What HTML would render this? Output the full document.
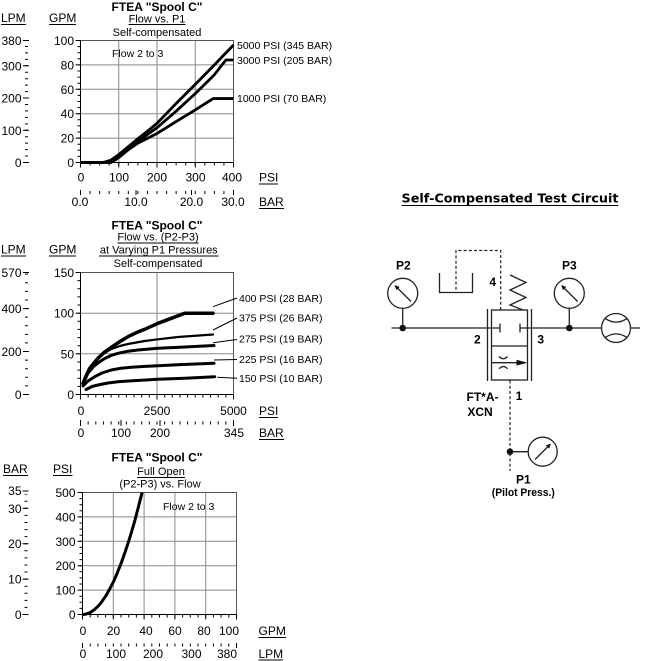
<!DOCTYPE html>
<html><head><meta charset="utf-8">
<style>
html,body{margin:0;padding:0;background:#fff;width:653px;height:661px;overflow:hidden;}
svg{display:block;}
text{font-family:"Liberation Sans",Arial,sans-serif;fill:#000;}
</style></head><body>
<svg width="653" height="661" viewBox="0 0 653 661" xmlns="http://www.w3.org/2000/svg">
<rect width="653" height="661" fill="#fff"/>

<!-- ================= TOP CHART ================= -->
<g>
<text x="157" y="11" font-size="12" font-weight="bold" text-anchor="middle">FTEA "Spool C"</text>
<text x="157" y="22.5" font-size="11" text-anchor="middle">Flow vs. P1</text>
<line x1="128.5" y1="24.5" x2="185.5" y2="24.5" stroke="#000"/>
<text x="157" y="36" font-size="11" text-anchor="middle">Self-compensated</text>
<text x="1" y="22" font-size="12">LPM</text>
<line x1="1" y1="24.5" x2="26" y2="24.5" stroke="#000"/>
<text x="49" y="22" font-size="12">GPM</text>
<line x1="49" y1="24.5" x2="76" y2="24.5" stroke="#000"/>

<g stroke="#8a8a8a" stroke-width="1">
<path d="M118.75 40.5V162.5M157 40.5V162.5M195.25 40.5V162.5M80.5 138.1H233.5M80.5 113.7H233.5M80.5 89.3H233.5M80.5 64.9H233.5"/>
</g>
<rect x="80.5" y="40.5" width="153" height="122" fill="none" stroke="#555"/>
<path d="M80.5 40.5V162.5H233.5" fill="none" stroke="#000"/>

<line x1="79" y1="163" x2="79" y2="40" stroke="#000" stroke-width="3" stroke-dasharray="1 5.1"/>
<path d="M75.5 162.5h5M75.5 138.1h5M75.5 113.7h5M75.5 89.3h5M75.5 64.9h5M75.5 40.5h5" stroke="#000"/>
<g font-size="12" text-anchor="end">
<text x="74" y="45">100</text><text x="74" y="69.4">80</text><text x="74" y="93.8">60</text>
<text x="74" y="118.2">40</text><text x="74" y="142.6">20</text><text x="74" y="167">0</text>
</g>
<line x1="26.5" y1="163" x2="26.5" y2="41" stroke="#000" stroke-width="3" stroke-dasharray="1 5.446"/>
<path d="M23 162.5h6M23 130.3h6M23 98h6M23 65.8h6M23 40.5h6" stroke="#000"/>
<g font-size="12" text-anchor="end">
<text x="21.5" y="45">380</text><text x="21.5" y="70.3">300</text><text x="21.5" y="102.5">200</text>
<text x="21.5" y="134.8">100</text><text x="21.5" y="167">0</text>
</g>
<line x1="80" y1="164" x2="234" y2="164" stroke="#000" stroke-width="3" stroke-dasharray="1 8.5625"/>
<path d="M80.5 162.5v5M118.75 162.5v5M157 162.5v5M195.25 162.5v5M233.5 162.5v5" stroke="#000"/>
<g font-size="12" text-anchor="middle">
<text x="81" y="181.5">0</text><text x="119" y="181.5">100</text><text x="157" y="181.5">200</text>
<text x="195.5" y="181.5">300</text><text x="232" y="181.5">400</text>
</g>
<text x="259" y="181.5" font-size="12">PSI</text>
<line x1="259" y1="184" x2="278" y2="184" stroke="#000"/>
<line x1="80" y1="192.5" x2="234" y2="192.5" stroke="#000" stroke-width="3" stroke-dasharray="1 8.5625"/>
<path d="M80.5 190v5M136 190v5M191.5 190v5M233.5 190v5" stroke="#000"/>
<g font-size="12" text-anchor="middle">
<text x="80" y="206">0.0</text><text x="136" y="206">10.0</text><text x="191.5" y="206">20.0</text><text x="233" y="206">30.0</text>
</g>
<text x="259" y="206" font-size="12">BAR</text>
<line x1="259" y1="208.5" x2="284" y2="208.5" stroke="#000"/>

<text x="112" y="57" font-size="10.5">Flow 2 to 3</text>

<g fill="none" stroke="#000" stroke-width="2.8" stroke-linejoin="round">
<polyline points="80.5,162.5 111.1,162.5 114.9,160.06 118.75,156.4 128.3,149.69 137.9,143.1 157,133.46 176.1,121.6 195.25,109.9 213.2,98.57 233.5,98.57"/>
<polyline points="80.5,162.5 109.2,162.5 114.9,160.06 118.75,157.62 128.3,149.69 137.9,141.6 147.4,134.5 157,127.7 176.1,111.2 195.25,93.6 214.4,74.7 225.85,60.02 233.5,60.02"/>
<polyline points="80.5,162.5 103.5,162.5 111.1,160.06 118.75,154.57 128.3,146.64 137.9,138.71 147.4,131.2 157,123.3 176.1,103.5 195.25,84.4 214.4,64.9 233.5,45.01"/>
</g>
<g font-size="10.5">
<text x="237" y="49">5000 PSI (345 BAR)</text>
<text x="237" y="64">3000 PSI (205 BAR)</text>
<text x="237" y="102">1000 PSI (70 BAR)</text>
</g>
</g>

<!-- ================= MIDDLE CHART ================= -->
<g>
<text x="157" y="229.5" font-size="12" font-weight="bold" text-anchor="middle">FTEA "Spool C"</text>
<text x="158" y="240.5" font-size="11" text-anchor="middle">Flow vs. (P2-P3)</text>
<line x1="117.5" y1="243" x2="198.5" y2="243" stroke="#000"/>
<text x="158.8" y="253.5" font-size="11" text-anchor="middle">at Varying P1 Pressures</text>
<line x1="99" y1="256" x2="218.5" y2="256" stroke="#000"/>
<text x="158" y="267" font-size="11" text-anchor="middle">Self-compensated</text>
<text x="1" y="253.5" font-size="12">LPM</text>
<line x1="1" y1="256" x2="26" y2="256" stroke="#000"/>
<text x="49" y="253.5" font-size="12">GPM</text>
<line x1="49" y1="256" x2="76" y2="256" stroke="#000"/>

<g stroke="#8a8a8a"><path d="M157 272.5V394.5M80.5 353.8H233.5M80.5 313.2H233.5"/></g>
<rect x="80.5" y="272.5" width="153" height="122" fill="none" stroke="#555"/>
<path d="M80.5 272.5V394.5H233.5" fill="none" stroke="#000"/>

<line x1="79" y1="395" x2="79" y2="272" stroke="#000" stroke-width="3" stroke-dasharray="1 7.133"/>
<path d="M75.5 394.5h5M75.5 353.8h5M75.5 313.2h5M75.5 272.5h5" stroke="#000"/>
<g font-size="12" text-anchor="end">
<text x="74" y="277">150</text><text x="74" y="317.7">100</text><text x="74" y="358.3">50</text><text x="74" y="399">0</text>
</g>
<line x1="26.5" y1="395" x2="26.5" y2="273" stroke="#000" stroke-width="3" stroke-dasharray="1 7.594"/>
<path d="M23 394.5h6M23 351.5h6M23 308.6h6M23 272.5h6" stroke="#000"/>
<g font-size="12" text-anchor="end">
<text x="21.5" y="277">570</text><text x="21.5" y="313.1">400</text><text x="21.5" y="356">200</text><text x="21.5" y="399">0</text>
</g>
<line x1="80" y1="396" x2="234" y2="396" stroke="#000" stroke-width="3" stroke-dasharray="1 6.65"/>
<path d="M80.5 394.5v5M157 394.5v5M233.5 394.5v5" stroke="#000"/>
<g font-size="12" text-anchor="middle">
<text x="81" y="415">0</text><text x="157" y="415">2500</text><text x="233.5" y="415">5000</text>
</g>
<text x="259" y="415" font-size="12">PSI</text>
<line x1="259" y1="417.5" x2="278" y2="417.5" stroke="#000"/>
<line x1="80" y1="423" x2="234" y2="423" stroke="#000" stroke-width="3" stroke-dasharray="1 6.65"/>
<path d="M80.5 420v6M121 420v6M160 420v6M233.5 420v6" stroke="#000"/>
<g font-size="12" text-anchor="middle">
<text x="81" y="437">0</text><text x="121" y="437">100</text><text x="160" y="437">200</text><text x="234" y="437">345</text>
</g>
<text x="259" y="437" font-size="12">BAR</text>
<line x1="259" y1="439.5" x2="284" y2="439.5" stroke="#000"/>

<g fill="none" stroke="#000" stroke-linejoin="round" stroke-linecap="round">
<polyline stroke-width="3" points="86,389.5 92,386.5 98,385 108,383 118,381.7 135,380.6 158,379.3 185,378.3 214.7,376.7"/>
<polyline stroke-width="3" points="83,386 88,381 94.7,376.7 102,373 111.3,370 121,368.2 131.3,367.3 145,366.4 158,365.7 180,364.6 214,363.3"/>
<polyline stroke-width="3" points="83,384 88,373 94,366 100,361.5 104.7,358.5 111,355.5 118,353.3 128,351.2 138,350 158,348.3 180,347.2 214,345.5"/>
<polyline stroke-width="2.2" points="83,383.3 89.7,368.8 98,359 104,353.5 111.3,349 120,346 128,344 144.7,341 158,339.3 178,337 213,334.5"/>
<polyline stroke-width="3.5" points="83,383.3 86,376 89.7,368.3 94,363 98,358.3 104,352.5 111.3,347.3 120,341.5 128,336.7 136,332.8 144.7,329.3 158,323.3 171.3,318.3 184.7,313.2 213,313.2"/>
</g>
<g stroke="#000" stroke-width="1">
<path d="M213 306.7L237 298M213 330L237 318M213 342.7L237 339.5M214 360L237 359.5M217.3 377.3L237 378.3"/>
</g>
<g font-size="10.5">
<text x="239" y="302">400 PSI (28 BAR)</text>
<text x="239" y="321.5">375 PSI (26 BAR)</text>
<text x="239" y="342.5">275 PSI (19 BAR)</text>
<text x="239" y="363">225 PSI (16 BAR)</text>
<text x="239" y="382">150 PSI (10 BAR)</text>
</g>
</g>

<!-- ================= BOTTOM CHART ================= -->
<g>
<text x="157" y="461.5" font-size="12" font-weight="bold" text-anchor="middle">FTEA "Spool C"</text>
<text x="161" y="475" font-size="11" text-anchor="middle">Full Open</text>
<line x1="137" y1="477.5" x2="185" y2="477.5" stroke="#000"/>
<text x="160" y="487.5" font-size="11" text-anchor="middle">(P2-P3) vs. Flow</text>
<text x="3" y="473" font-size="12">BAR</text>
<line x1="3" y1="475.5" x2="28" y2="475.5" stroke="#000"/>
<text x="53" y="473" font-size="12">PSI</text>
<line x1="53" y1="475.5" x2="72.5" y2="475.5" stroke="#000"/>

<g stroke="#8a8a8a"><path d="M113.3 492.5V614.5M144.1 492.5V614.5M174.9 492.5V614.5M205.7 492.5V614.5M82.5 590.1H236.5M82.5 565.7H236.5M82.5 541.3H236.5M82.5 516.9H236.5"/></g>
<rect x="82.5" y="492.5" width="154" height="122" fill="none" stroke="#555"/>
<path d="M82.5 492.5V614.5H236.5" fill="none" stroke="#000"/>

<line x1="81" y1="615" x2="81" y2="492" stroke="#000" stroke-width="3" stroke-dasharray="1 5.1"/>
<path d="M77.5 614.5h5M77.5 590.1h5M77.5 565.7h5M77.5 541.3h5M77.5 516.9h5M77.5 492.5h5" stroke="#000"/>
<g font-size="12" text-anchor="end">
<text x="75.5" y="497">500</text><text x="75.5" y="521.4">400</text><text x="75.5" y="545.8">300</text>
<text x="75.5" y="570.2">200</text><text x="75.5" y="594.6">100</text><text x="75.5" y="619">0</text>
</g>
<line x1="26" y1="615" x2="26" y2="494" stroke="#000" stroke-width="3" stroke-dasharray="1 6.078"/>
<path d="M22.5 614.5h6M22.5 579.1h6M22.5 543.7h6M22.5 508.3h6M22.5 491h6" stroke="#000"/>
<g font-size="12" text-anchor="end">
<text x="21.5" y="495">35</text><text x="21.5" y="512.8">30</text><text x="21.5" y="548.2">20</text>
<text x="21.5" y="583.6">10</text><text x="21.5" y="619">0</text>
</g>
<line x1="82" y1="616" x2="237" y2="616" stroke="#000" stroke-width="3" stroke-dasharray="1 6.7"/>
<path d="M82.5 614.5v5M113.3 614.5v5M144.1 614.5v5M174.9 614.5v5M205.7 614.5v5M236.5 614.5v5" stroke="#000"/>
<g font-size="12" text-anchor="middle">
<text x="83" y="635">0</text><text x="113.5" y="635">20</text><text x="146" y="635">40</text>
<text x="175" y="635">60</text><text x="204" y="635">80</text><text x="229" y="635">100</text>
</g>
<text x="258.5" y="635" font-size="12">GPM</text>
<line x1="258.5" y1="637.5" x2="286" y2="637.5" stroke="#000"/>
<line x1="82" y1="645" x2="237" y2="645" stroke="#000" stroke-width="3" stroke-dasharray="1 6.7"/>
<path d="M82.5 643v5M236.5 643v5" stroke="#000"/>
<g font-size="12" text-anchor="middle">
<text x="83" y="658">0</text><text x="116" y="658">100</text><text x="153" y="658">200</text>
<text x="191.5" y="658">300</text><text x="227" y="658">380</text>
</g>
<text x="258.5" y="658" font-size="12">LPM</text>
<line x1="258.5" y1="660" x2="283" y2="660" stroke="#000"/>

<text x="163" y="510" font-size="10.5">Flow 2 to 3</text>
<polyline fill="none" stroke="#000" stroke-width="3" stroke-linejoin="round" points="82.5,614.5 85.6,614.2 90.2,612.5 94.8,609.3 97.9,606.4 101,602.8 105.6,596.2 110.2,588.1 113.3,582.1 116.4,575.1 121,563.6 125.6,550.6 128.7,541.2 131.8,531.1 134.9,520.3 137.9,508.9 141,496.8 142.1,492.5"/>
</g>

<!-- ================= CIRCUIT ================= -->
<g>
<text x="401.5" y="202.5" font-size="12.5" font-weight="bold" textLength="217" lengthAdjust="spacingAndGlyphs" style="font-family:'DejaVu Sans',Verdana,sans-serif">Self-Compensated Test Circuit</text>
<line x1="401.5" y1="205.5" x2="618.5" y2="205.5" stroke="#000"/>

<g stroke="#222" stroke-width="1.3" fill="none">
<path d="M391.5 328H500M520 328H601.5M630.5 328H640"/>
<path d="M500 323.5V332.5M520 323.5V332.5"/>
<path d="M487.5 309V381M531.5 309V381"/>
<rect x="491.5" y="310" width="36" height="70"/>
<path d="M491.5 346H527.5M491.5 362.7H518"/>
<path d="M499 356.5Q503.3 361 507.5 356.5M499 368.8Q503.3 364.3 507.5 368.8"/>
<polyline points="510,275 526,282.5 510,290 526,297.5 510,305 523,310"/>
<circle cx="402.7" cy="293.3" r="15"/>
<path d="M402.7 308.3V328"/>
<circle cx="569.3" cy="293.3" r="15"/>
<path d="M569.3 308.3V328"/>
<circle cx="616" cy="328" r="14.5"/>
<path d="M605 318.3Q616 326 627.3 318.3M605 337.7Q616 330 627.3 337.7"/>
<path d="M439.5 273V292.5H472.5V273"/>
<path d="M510 451.7H528.2"/>
<circle cx="542.7" cy="451.7" r="14.5"/>
<path d="M411 301.5L397 287.5M577.6 301.5L563.6 287.5M535 459.5L549 445.5"/>
</g>
<g stroke="#222" stroke-width="1.2" fill="none" stroke-dasharray="3 2.2">
<path d="M500.7 310V250.5H456V292"/>
<path d="M510 380.5V471"/>
</g>
<g fill="#111">
<circle cx="402.7" cy="328" r="3.3"/>
<circle cx="569.3" cy="328" r="3.3"/>
<circle cx="510" cy="451.7" r="3.3"/>
<polygon points="394.5,285 399.6,286.9 396.4,290.1"/>
<polygon points="561.1,285 566.2,286.9 563,290.1"/>
<polygon points="551,443.5 549.1,448.6 545.9,445.4"/>
<polygon points="516.5,359.8 527.5,362.7 516.5,365.6"/>
</g>
<g font-size="12" font-weight="bold" text-anchor="middle">
<text x="403.3" y="269.5">P2</text>
<text x="569.3" y="269.5">P3</text>
<text x="492.7" y="286">4</text>
<text x="477.3" y="343.5">2</text>
<text x="540.7" y="343.5">3</text>
<text x="519" y="400">1</text>
<text x="482.5" y="401">FT*A-</text>
<text x="480" y="416">XCN</text>
<text x="523.3" y="483.5">P1</text>
</g>
<text x="523.3" y="496" font-size="11" font-weight="bold" text-anchor="middle" textLength="63" lengthAdjust="spacingAndGlyphs">(Pilot Press.)</text>
</g>
</svg>
</body></html>
